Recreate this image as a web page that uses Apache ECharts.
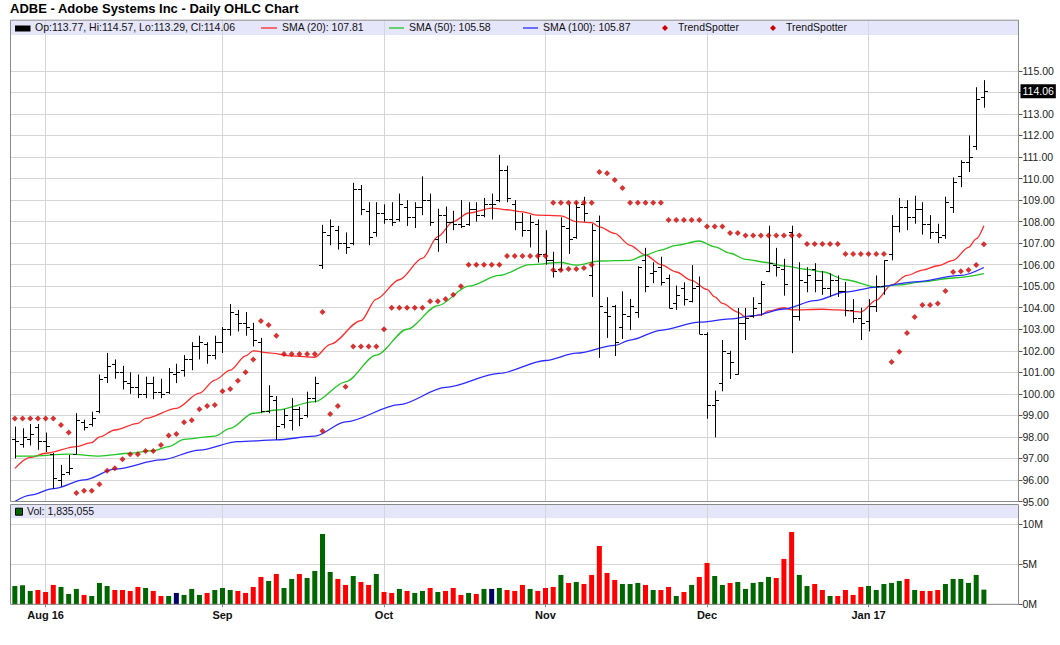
<!DOCTYPE html>
<html><head><meta charset="utf-8">
<script src="https://cdn.jsdelivr.net/npm/echarts@6/dist/echarts.min.js"></script>
<style>html,body{margin:0;padding:0;background:#fff}#c{width:1060px;height:645px}</style>
</head><body><div id="c"></div>
<script>
// ---------- DATA ----------
// trading days shown (last four Jan entries are empty space on the right)
const tradingDays = [
  ['2016-07', [26,27,28,29]],
  ['2016-08', [1,2,3,4,5,8,9,10,11,12,15,16,17,18,19,22,23,24,25,26,29,30,31]],
  ['2016-09', [1,2,6,7,8,9,12,13,14,15,16,19,20,21,22,23,26,27,28,29,30]],
  ['2016-10', [3,4,5,6,7,10,11,12,13,14,17,18,19,20,21,24,25,26,27,28,31]],
  ['2016-11', [1,2,3,4,7,8,9,10,11,14,15,16,17,18,21,22,23,25,28,29,30]],
  ['2016-12', [1,2,5,6,7,8,9,12,13,14,15,16,19,20,21,22,23,27,28,29,30]],
  ['2017-01', [3,4,5,6,9,10,11,12,13,17,18,19,20,23,24,25,26,27,30,31]]
];
const monthLabels = [
  ['2016-08-01','Aug 16'],['2016-09-01','Sep'],['2016-10-03','Oct'],
  ['2016-11-01','Nov'],['2016-12-01','Dec'],['2017-01-03','Jan 17']
];
const priceTickRange = [95, 115];
const volTicks = [0, 5, 10];   // millions

const opens = [97.9,97.67,97.9,98.44,97.8,97.2,96.0,96.35,97.2,98.7,
98.6,99.2,100.8,101.4,101.0,100.5,100.3,100.0,100.5,100.1,
100.1,100.9,101.1,101.6,102.2,102.3,101.8,102.4,103.0,103.7,
103.3,103.0,102.4,99.2,99.7,98.6,98.8,99.3,99.0,99.8,
106.0,107.4,107.6,107.0,107.0,109.5,108.5,107.5,108.4,108.1,
108.1,108.7,108.2,108.7,109.0,107.2,108.3,108.0,107.9,107.9,
108.6,108.3,108.8,109.0,110.4,108.8,108.0,107.6,107.9,106.5,
106.2,105.8,107.7,107.3,108.8,105.5,108.05,103.8,104.1,103.1,
103.6,103.8,106.2,105.6,105.9,105.4,104.2,104.9,104.3,105.0,
102.8,99.5,100.5,101.9,100.9,103.3,103.6,104.2,105.7,106.0,
105.8,107.5,103.6,105.2,105.8,105.3,104.9,105.3,104.8,103.9,
103.5,103.4,104.1,105.0,106.5,107.8,108.7,108.2,108.6,107.9,
107.5,107.4,108.7,110.1,110.75,111.5,113.77];
const highs = [98.48,98.4,98.6,98.6,98.2,97.25,96.7,97.16,99.1,98.8,
99.17,100.9,101.9,101.6,101.3,101.0,100.9,100.8,100.8,100.7,
101.2,101.4,101.8,102.4,102.7,102.4,102.7,103.1,104.17,103.9,
103.8,103.3,102.6,100.4,99.9,99.3,99.8,99.4,100.1,100.8,
107.85,108.1,107.8,107.5,109.8,109.7,108.9,108.9,108.8,108.9,
109.3,109.0,108.9,110.1,109.3,108.6,108.7,108.5,109.0,108.9,
108.9,109.1,109.3,111.1,110.6,109.0,108.4,108.3,108.1,107.6,
106.6,108.2,108.8,108.9,109.15,107.9,108.28,104.49,104.13,104.76,
104.41,105.93,106.78,106.11,106.37,105.54,105.03,105.18,105.98,105.45,
102.86,100.15,102.5,102.0,103.99,103.99,104.49,105.23,107.81,106.78,
106.27,107.81,106.11,105.88,106.07,105.7,105.6,105.5,105.2,104.4,
104.0,104.4,105.5,106.2,108.3,109.1,109.0,109.2,108.9,108.3,
107.9,109.16,110.05,110.85,112.0,114.24,114.57];
const lows = [97.0,97.5,97.6,97.4,97.3,95.6,95.69,96.23,97.2,98.3,
98.48,99.1,100.5,100.7,100.2,100.0,99.8,99.8,99.75,99.8,
100.0,100.5,100.8,101.1,101.6,101.4,101.6,101.9,102.7,102.9,
102.7,102.2,99.1,99.1,97.86,98.4,98.3,98.5,98.9,99.6,
105.8,106.9,106.7,106.5,106.9,108.3,106.9,107.3,107.9,107.8,
108.0,107.8,107.7,108.3,107.8,106.6,107.0,107.6,107.7,107.8,
108.0,108.2,108.1,108.9,108.9,107.6,107.3,106.8,106.1,106.0,
105.4,105.7,106.5,107.2,108.0,104.5,101.67,102.6,101.76,102.55,
102.97,103.53,104.72,105.14,105.03,103.98,103.9,104.1,104.25,102.78,
98.84,97.98,100.12,100.69,100.89,102.5,103.53,103.63,105.65,105.45,
104.56,101.89,103.4,104.72,104.72,104.6,104.5,104.5,103.6,103.3,
102.5,102.9,103.8,104.6,106.2,107.5,107.6,107.9,107.4,107.2,
107.0,107.2,108.4,109.6,110.3,111.33,113.29];
const closes = [97.8,97.98,98.15,97.82,97.6,96.08,96.3,96.55,98.8,98.45,
98.86,100.7,101.3,101.0,100.6,100.3,100.0,100.5,100.1,100.0,
101.0,101.0,101.6,102.2,102.4,101.8,102.4,103.0,103.8,103.3,
103.1,102.5,99.2,99.9,98.5,99.0,99.3,98.9,99.8,100.5,
107.5,107.8,107.0,106.8,109.5,108.6,107.3,108.4,108.1,108.0,
108.8,108.2,108.7,109.0,108.0,108.3,108.0,107.9,107.8,108.6,
108.3,108.8,108.8,110.4,109.1,108.0,107.6,108.0,106.5,106.2,
105.7,107.8,107.2,108.7,108.4,107.6,104.08,103.6,102.4,103.7,
104.1,105.9,105.0,105.7,105.2,104.0,104.6,104.4,104.9,102.8,
99.5,99.7,102.0,101.5,103.3,103.5,104.0,105.1,106.1,105.9,
105.1,103.6,105.3,105.5,105.3,104.9,105.3,104.8,103.9,103.5,
103.3,104.1,105.0,106.2,107.8,108.7,108.2,108.6,107.9,107.5,
107.3,108.9,109.85,110.75,111.0,113.7,114.06];
const closeBeforeWindow = 97.5;
const volumes = [2.29,2.38,1.67,1.79,1.54,2.42,2.17,1.29,1.92,1.17,
1.04,2.67,2.29,1.79,1.79,1.67,2.17,2.04,1.67,1.04,
1.04,1.42,1.17,1.92,1.17,1.42,1.79,2.04,1.79,1.67,
1.42,2.17,3.42,2.92,3.79,2.04,3.17,3.79,3.29,4.17,
8.79,4.04,3.17,2.42,3.54,2.79,2.42,3.79,1.54,1.42,
1.92,1.67,1.42,1.67,2.04,1.54,1.67,2.04,1.17,1.42,
1.29,1.92,1.92,2.04,1.79,1.67,2.42,1.92,1.67,2.04,
2.17,3.67,2.67,2.79,2.54,3.67,7.29,3.92,3.04,2.54,
2.54,2.67,2.42,1.79,1.79,2.17,1.04,1.54,2.42,3.42,
5.17,3.54,2.42,2.67,2.79,1.92,2.67,2.79,3.42,3.29,
5.67,9.04,3.67,2.29,2.54,1.79,1.04,1.04,1.79,1.17,
2.17,2.29,1.79,2.54,2.67,2.92,3.17,1.79,1.67,1.67,
1.79,2.54,3.17,3.17,2.67,3.67,1.835055];

// moving averages: [day index, value]
const sma20 = [[0,96.54],[2,97.05],[4,97.24],[8,97.55],[10,97.73],[11,98.0],[13,98.32],[16,98.63],[17,98.86],[21,99.33],[24,100.03],[26,100.64],[28,101.1],[30,101.76],[31,102.0],[33,101.9],[36,101.76],[39,101.7],[41,102.3],[45,103.4],[47,104.4],[50,105.3],[53,106.3],[55,107.3],[57,108.0],[59,108.4],[62,108.63],[64,108.55],[66,108.45],[68,108.3],[71,108.27],[73,108.0],[75,107.95],[76,107.76],[78,107.45],[80,106.9],[82,106.45],[84,106.0],[86,105.66],[88,105.27],[90,104.85],[91,104.5],[92,104.2],[94,103.8],[95,103.58],[97,103.66],[98,103.85],[100,104.0],[101,103.9],[105,103.93],[107,103.9],[110,103.8],[112,104.35],[114,105.06],[116,105.5],[118,105.75],[120,105.95],[122,106.2],[124,106.8],[125,107.2],[126,107.81]];
const sma50 = [[0,97.11],[2,97.11],[7,97.2],[11,97.11],[15,97.24],[18,97.36],[20,97.55],[22,97.89],[26,98.04],[28,98.4],[31,99.1],[34,99.25],[39,99.64],[43,100.56],[47,101.8],[51,103.0],[55,104.1],[59,105.0],[63,105.5],[67,106.0],[71,106.1],[73,105.98],[76,106.17],[80,106.2],[82,106.45],[84,106.68],[86,106.9],[89,107.1],[91,106.83],[93,106.53],[95,106.25],[98,106.09],[100,105.94],[103,105.78],[105,105.67],[108,105.3],[112,104.96],[115,105.06],[118,105.2],[122,105.38],[126,105.58]];
const sma100 = [[0,95.0],[2,95.3],[5,95.6],[9,96.0],[13,96.5],[19,96.93],[24,97.39],[29,97.78],[34,97.86],[39,98.04],[43,98.7],[50,99.5],[56,100.3],[63,100.95],[69,101.55],[73,101.89],[78,102.25],[80,102.5],[84,102.95],[89,103.33],[93,103.48],[96,103.63],[100,103.94],[104,104.33],[108,104.73],[112,104.96],[117,105.2],[123,105.5],[126,105.87]];

// TrendSpotter dots: [day index, value]
const tsUpper = [[0,98.86],[1,98.86],[2,98.86],[3,98.86],[4,98.86],[5,98.86],[6,98.55],[7,98.21],
[32,103.38],[33,103.2],[34,102.7],[35,101.85],[36,101.85],[37,101.85],[38,101.85],[39,101.85],[40,103.8],
[70,108.88],[71,108.88],[72,108.88],[73,108.88],[74,108.88],[75,108.88],
[76,110.3],[77,110.25],[78,109.93],[79,109.56],
[80,108.88],[81,108.88],[82,108.88],[83,108.88],[84,108.88],
[85,108.08],[86,108.08],[87,108.08],[88,108.08],[89,108.08],
[90,107.77],[91,107.77],[92,107.77],[93,107.47],[94,107.47],
[95,107.35],[96,107.35],[97,107.35],[98,107.35],[99,107.35],[100,107.35],[101,107.35],[102,107.35],
[103,106.96],[104,106.96],[105,106.96],[106,106.96],[107,106.96],
[108,106.5],[109,106.5],[110,106.5],[111,106.5],[112,106.5],[113,106.5]];
const tsLower = [[8,95.39],[9,95.5],[10,95.5],[11,95.8],[12,96.43],[13,96.54],[14,96.96],[15,97.2],[16,97.2],[17,97.35],[18,97.35],[19,97.62],[20,98.06],[21,98.13],[22,98.68],[23,98.77],[24,99.28],[25,99.43],[26,99.48],[27,100.12],[28,100.23],[29,100.61],[30,101.0],[31,101.6],
[40,98.27],[41,99.06],[42,99.43],[43,100.33],[44,102.2],[45,102.2],[46,102.2],[47,102.2],[48,103.0],[49,104.0],[50,104.0],[51,104.0],[52,104.0],[53,104.0],[54,104.3],[55,104.3],[56,104.4],[57,104.6],[58,105.0],[59,106.0],[60,106.0],[61,106.0],[62,106.0],[63,106.0],[64,106.4],[65,106.4],[66,106.4],[67,106.4],[68,106.4],[69,106.4],[70,105.75],[71,105.75],[72,105.8],[73,105.8],[74,105.85],[75,106.0],
[114,101.48],[115,101.95],[116,102.83],[117,103.57],[118,104.13],[119,104.13],[120,104.2],[121,104.78],[122,105.66],[123,105.7],[124,105.75],[125,105.98],[126,106.95]];

// ---------- BUILD ----------
const dates = [];
tradingDays.forEach(([m, ds]) => ds.forEach(d => dates.push(m + '-' + String(d).padStart(2,'0'))));
const labelMap = {}; monthLabels.forEach(([d,l]) => labelMap[d] = l);
const last = opens.length - 1;
const lastVal = a => a[a.length-1][1];

const F = '"Liberation Sans", Arial, sans-serif';
const LEFT = 11, WIDTH = 1007.5, RIGHT_X = LEFT + WIDTH;
const P_TOP = 20.7, P_BOT = 501.5, PX_PER = 21.53;
const P_H = P_BOT - P_TOP;
const pMin = priceTickRange[0];
const pMaxData = pMin + P_H / PX_PER;
const P_AX_TOP = P_BOT - (priceTickRange[1] - pMin) * PX_PER;
const V_TOP = 505, V_BOT = 604.3, V_PX = 8;
const vMax = (V_BOT - V_TOP) / V_PX;
const V_AX_TOP = V_BOT - volTicks[volTicks.length-1] * V_PX;

const GREEN = '#006600', RED = '#ff0000', NAVY = '#000066';
function volColor(i) {
  const prev = i === 0 ? closeBeforeWindow : closes[i-1];
  if (closes[i] > prev) return GREEN;
  if (closes[i] < prev) return RED;
  return NAVY;
}
const monthLineData = monthLabels.map(([d]) => ({xAxis: d}));
const gridLineStyle = {color:'#d6d6d6', width:1, type:'solid'};

const ohlc = opens.map((o,i) => [i, o, highs[i], lows[i], closes[i]]);

const chart = echarts.init(document.getElementById('c'), null, {renderer:'svg', width:1060, height:645});

const legendY = 28, volLegendY = 511.7;
function legText(x, y, t) {
  return {type:'text', left:x, top:y-6.5, z:20, style:{text:t, fill:'#111', font:'10.5px ' + F}};
}
function legLine(x1, x2, y, c) {
  return {type:'line', z:20, shape:{x1:x1, y1:y, x2:x2, y2:y}, style:{stroke:c, lineWidth:1.3}};
}
function legDiamond(cx, cy) {
  return {type:'polygon', z:20, shape:{points:[[cx,cy-3],[cx+3,cy],[cx,cy+3],[cx-3,cy]]}, style:{fill:'#cc0000'}};
}

const option = {
  animation: false,
  backgroundColor: '#fff',
  textStyle: {fontFamily: F},
  grid: [
    {left:LEFT, width:WIDTH, top:P_TOP, height:P_H},
    {left:LEFT, width:WIDTH, top:V_TOP, height:V_BOT - V_TOP},
    {left:LEFT, width:WIDTH, top:P_AX_TOP, height:P_BOT - P_AX_TOP},
    {left:LEFT, width:WIDTH, top:V_AX_TOP, height:V_BOT - V_AX_TOP}
  ],
  xAxis: [
    {type:'category', gridIndex:0, data:dates, boundaryGap:true, show:false},
    {type:'category', gridIndex:1, data:dates, boundaryGap:true,
      axisLine:{show:false},
      axisTick:{show:true, alignWithLabel:true, length:3, interval:(i,v)=>v in labelMap, lineStyle:{color:'#888'}},
      axisLabel:{interval:(i,v)=>v in labelMap, formatter:v=>labelMap[v]||'', fontWeight:'bold', fontSize:11, color:'#111', margin:5, fontFamily:F},
      splitLine:{show:false}},
    {type:'category', gridIndex:2, data:dates, boundaryGap:true, show:false},
    {type:'category', gridIndex:3, data:dates, boundaryGap:true, show:false}
  ],
  yAxis: [
    {type:'value', gridIndex:0, min:pMin, max:pMaxData, show:false},
    {type:'value', gridIndex:1, min:0, max:vMax, show:false},
    {type:'value', gridIndex:2, min:priceTickRange[0], max:priceTickRange[1], interval:1, position:'right',
      axisLine:{show:false},
      axisTick:{show:true, length:4, lineStyle:{color:'#555'}},
      axisLabel:{margin:4, fontSize:10.5, color:'#222', fontFamily:F,
        formatter:v => Math.abs(v - closes[last]) < 0.5 ? '' : v.toFixed(2)},
      splitLine:{show:true, lineStyle:gridLineStyle}},
    {type:'value', gridIndex:3, min:volTicks[0], max:volTicks[volTicks.length-1], interval:volTicks[1]-volTicks[0], position:'right',
      axisLine:{show:false},
      axisTick:{show:true, length:4, lineStyle:{color:'#555'}},
      axisLabel:{margin:4, fontSize:10.5, color:'#222', fontFamily:F, formatter:v => v + 'M'},
      splitLine:{show:true, lineStyle:gridLineStyle}}
  ],
  series: [
    {type:'custom', name:'OHLC', xAxisIndex:0, yAxisIndex:0, z:3, data:ohlc,
      encode:{x:0, y:[1,2,3,4]},
      renderItem:(params, api) => {
        const idx = api.value(0);
        const pH = api.coord([idx, api.value(2)]);
        const pL = api.coord([idx, api.value(3)]);
        const pO = api.coord([idx, api.value(1)]);
        const pC = api.coord([idx, api.value(4)]);
        const x = Math.round(pH[0]) + 0.5;
        const st = {stroke:'#000', lineWidth:1};
        return {type:'group', children:[
          {type:'line', shape:{x1:x, y1:pH[1], x2:x, y2:pL[1]}, style:st},
          {type:'line', shape:{x1:x-3.5, y1:Math.round(pO[1])+0.5, x2:x, y2:Math.round(pO[1])+0.5}, style:st},
          {type:'line', shape:{x1:x, y1:Math.round(pC[1])+0.5, x2:x+3.5, y2:Math.round(pC[1])+0.5}, style:st}
        ]};
      }},
    {type:'line', name:'SMA (20)', xAxisIndex:0, yAxisIndex:0, data:sma20, showSymbol:false, smooth:0.3, smoothMonotone:'x',
      lineStyle:{color:'#ff2a2a', width:1.3}, z:2,
      markLine:{silent:true, z:10, symbol:['none','none'], animation:false,
        data:[{yAxis:closes[last], lineStyle:{color:'rgba(0,0,0,0)', width:0},
          label:{show:true, position:'end', distance:2, formatter:closes[last].toFixed(2),
            color:'#fff', backgroundColor:'#000', padding:[2,2,1,2], fontSize:10.5, fontFamily:F}}]}},
    {type:'line', name:'SMA (50)', xAxisIndex:0, yAxisIndex:0, data:sma50, showSymbol:false, smooth:0.3, smoothMonotone:'x',
      lineStyle:{color:'#22c622', width:1.3}, z:2},
    {type:'line', name:'SMA (100)', xAxisIndex:0, yAxisIndex:0, data:sma100, showSymbol:false, smooth:0.3, smoothMonotone:'x',
      lineStyle:{color:'#2a2aff', width:1.3}, z:2,
      markLine:{silent:true, z:1, symbol:['none','none'], animation:false, label:{show:false},
        lineStyle:gridLineStyle, data:monthLineData}},
    {type:'scatter', name:'TrendSpotter', xAxisIndex:0, yAxisIndex:0, data:tsUpper, symbol:'diamond', symbolSize:[6,6],
      itemStyle:{color:'#cc0000'}, z:4},
    {type:'scatter', name:'TrendSpotter ', xAxisIndex:0, yAxisIndex:0, data:tsLower, symbol:'diamond', symbolSize:[6,6],
      itemStyle:{color:'#cc0000'}, z:4},
    {type:'bar', name:'Vol', xAxisIndex:1, yAxisIndex:1, data:volumes, barWidth:5, z:3,
      itemStyle:{color:p => volColor(p.dataIndex)},
      markLine:{silent:true, z:1, symbol:['none','none'], animation:false, label:{show:false},
        lineStyle:gridLineStyle, data:monthLineData}}
  ],
  graphic: [
    {type:'text', left:10, top:2, z:20, style:{text:'ADBE - Adobe Systems Inc - Daily OHLC Chart', fill:'#000', font:'bold 13px ' + F}},
    // legend bands
    {type:'rect', z:-1, shape:{x:LEFT, y:P_TOP, width:WIDTH, height:14.3}, style:{fill:'#e6e6fa'}},
    {type:'rect', z:-1, shape:{x:LEFT, y:V_TOP, width:WIDTH, height:13.3}, style:{fill:'#e6e6fa'}},
    // frames
    {type:'rect', z:20, shape:{x:LEFT-0.5, y:P_TOP-0.5, width:WIDTH+0.5, height:P_H+0.5}, style:{fill:'none', stroke:'#8a8a8a', lineWidth:1}},
    {type:'rect', z:20, shape:{x:LEFT-0.5, y:V_TOP-0.5, width:WIDTH+0.5, height:V_BOT-V_TOP+0.5}, style:{fill:'none', stroke:'#8a8a8a', lineWidth:1}},
    // price legend
    {type:'rect', z:20, shape:{x:15, y:25.5, width:15.5, height:6}, style:{fill:'#000'}},
    legText(35, legendY, 'Op:' + opens[last].toFixed(2) + ', Hi:' + highs[last].toFixed(2) + ', Lo:' + lows[last].toFixed(2) + ', Cl:' + closes[last].toFixed(2)),
    legLine(261, 277, legendY, '#ff2a2a'),
    legText(282, legendY, 'SMA (20): ' + lastVal(sma20).toFixed(2)),
    legLine(389, 404, legendY, '#22c622'),
    legText(409, legendY, 'SMA (50): ' + lastVal(sma50).toFixed(2)),
    legLine(523, 538, legendY, '#2a2aff'),
    legText(543, legendY, 'SMA (100): ' + lastVal(sma100).toFixed(2)),
    legDiamond(665, legendY),
    legText(678, legendY, 'TrendSpotter'),
    legDiamond(773, legendY),
    legText(786, legendY, 'TrendSpotter'),
    // volume legend
    {type:'rect', z:20, shape:{x:15.5, y:volLegendY-3.5, width:7, height:7}, style:{fill:GREEN, stroke:'#000', lineWidth:1}},
    legText(27, volLegendY, 'Vol: ' + Math.round(volumes[last] * 1e6).toLocaleString('en-US'))
  ]
};
chart.setOption(option);
</script>
</body></html>
